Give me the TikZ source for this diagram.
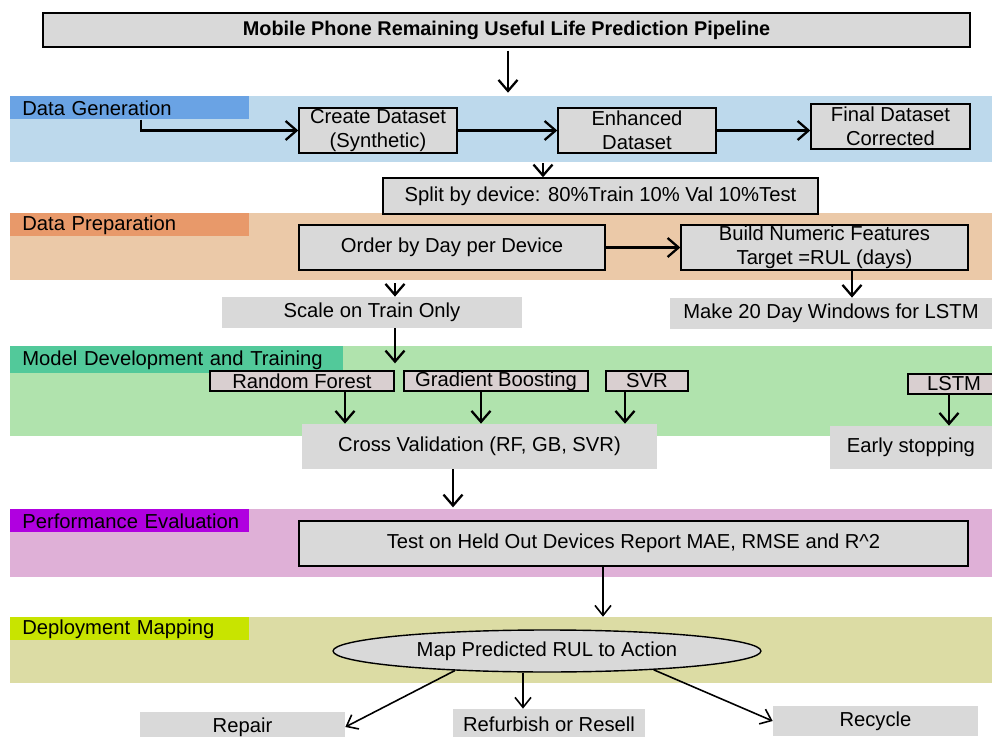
\documentclass[tikz,border=0pt]{standalone}
\usepackage{fontspec}
\setmainfont{Liberation Sans}
\usetikzlibrary{arrows.meta, positioning, shapes.geometric}

\definecolor{gris}{HTML}{D9D9D9}
\definecolor{rosagris}{HTML}{D9CFD0}
\definecolor{azulclaro}{HTML}{BDD9EC}
\definecolor{azul}{HTML}{6AA3E4}
\definecolor{melocoton}{HTML}{EBC9A8}
\definecolor{naranja}{HTML}{E8996A}
\definecolor{verdeclaro}{HTML}{B0E3AD}
\definecolor{verde}{HTML}{52C99A}
\definecolor{lila}{HTML}{DFB0D7}
\definecolor{morado}{HTML}{B000E0}
\definecolor{oliva}{HTML}{DCDCA4}
\definecolor{lima}{HTML}{C8E400}

\begin{document}
\begin{tikzpicture}[
      x=0.02cm, y=-0.02cm,
      font=\fontsize{11.5}{13.5}\selectfont,
      bloque/.style={draw, line width=0.8pt, fill=gris, align=center, inner sep=0pt},
      caja/.style={fill=gris, align=center, inner sep=0pt},
      modelo/.style={draw, line width=0.8pt, fill=rosagris, inner sep=0pt,
                     minimum height=0.4cm},
      etiqueta/.style={anchor=north west, inner xsep=0.24cm, inner ysep=0pt,
                       text width=#1, align=left, minimum height=0.46cm},
      flecha/.style={-{Straight Barb[length=2.2mm, width=3.8mm]}, line width=1.3pt},
      flechafina/.style={-{Straight Barb[length=2mm, width=3.2mm]}, line width=0.9pt}]
    \useasboundingbox (0,0) rectangle (992,737);

    % bandas de fondo
    \fill[azulclaro] (10,96) rectangle (992,162);
    \fill[melocoton] (10,213) rectangle (992,280);
    \fill[verdeclaro] (10,346) rectangle (992,436);
    \fill[lila] (10,509) rectangle (992,577);
    \fill[oliva] (10,617) rectangle (992,683);

    \node[etiqueta=4.3cm, fill=azul] (generacion) at (10,96) {Data Generation};
    \node[etiqueta=4.3cm, fill=naranja] (preparacion) at (10,213) {Data Preparation};
    \node[etiqueta=6.18cm, fill=verde, minimum height=0.54cm] (modelado) at (10,346)
      {Model Development and Training};
    \node[etiqueta=4.3cm, fill=morado] (evaluacion) at (10,509) {\mbox{Performance Evaluation}};
    \node[etiqueta=4.3cm, fill=lima] (despliegue) at (10,617) {Deployment Mapping};

    \node[bloque, minimum width=18.54cm, minimum height=0.68cm] (titulo) at (506.5,30)
      {\fontsize{11.3}{13}\selectfont\bfseries Mobile Phone Remaining Useful Life Prediction Pipeline};

    % generacion
    \node[bloque, minimum width=3.16cm, minimum height=0.9cm] (crear) at (378,130.5)
      {Create Dataset\\(Synthetic)};
    \node[bloque, minimum width=3.16cm, minimum height=0.9cm] (mejorado) at (637,130.5)
      {Enhanced\\Dataset};
    \node[bloque, minimum width=3.18cm, minimum height=0.9cm] (final) at (890.5,126.5)
      {Final Dataset\\Corrected};
    \node[bloque, minimum width=8.7cm, minimum height=0.72cm] (division) at (600.5,196)
      {Split by device: 80\%Train 10\% Val 10\%Test};

    % preparacion
    \node[bloque, minimum width=6.12cm, minimum height=0.9cm] (orden) at (452,247.5)
      {Order by Day per Device};
    \node[bloque, minimum width=5.74cm, minimum height=0.9cm] (construir) at (824.5,247.5)
      {Build Numeric Features\\Target =RUL (days)};
    \node[caja, minimum width=6cm, minimum height=0.62cm] (escala) at (372,312.5)
      {Scale on Train Only};
    \node[caja, minimum width=6.44cm, minimum height=0.62cm] (ventanas) at (831,313.5)
      {Make 20 Day Windows for LSTM};

    % modelos
    \node[modelo, minimum width=3.68cm] (bosque) at (302,381) {Random Forest};
    \node[modelo, minimum width=3.68cm] (boosting) at (496,381) {Gradient Boosting};
    \node[modelo, minimum width=1.64cm] (svr) at (647,381) {SVR};
    \node[modelo, minimum width=1.84cm] (lstm) at (954,384) {LSTM};
    \node[caja, minimum width=7.1cm, minimum height=0.9cm] (cruzada) at (479.5,446.5)
      {Cross Validation (RF, GB, SVR)};
    \node[caja, minimum width=3.24cm, minimum height=0.86cm] (parada) at (911,447.5)
      {Early stopping};

    % evaluacion y despliegue
    \node[bloque, minimum width=13.38cm, minimum height=0.9cm] (prueba) at (633.5,543.5)
      {Test on Held Out Devices Report MAE, RMSE and R\textasciicircum 2};
    \node[ellipse, draw, line width=0.8pt, fill=gris, inner sep=0pt,
          minimum width=8.56cm, minimum height=0.84cm] (mapa) at (547,651)
      {Map Predicted RUL to Action};
    \node[caja, minimum width=4.1cm, minimum height=0.6cm] (reparar) at (242.5,727) {Repair};
    \node[caja, minimum width=3.84cm, minimum height=0.6cm] (revender) at (549,724)
      {Refurbish or Resell};
    \node[caja, minimum width=4.1cm, minimum height=0.6cm] (reciclar) at (875.5,721) {Recycle};

    \coordinate (c1) at (543,163);
    \coordinate (c2) at (395,283);

    \draw[flecha] (titulo.south) ++(1.5,3) -- ++(0,42);
    \draw[flecha] ([xshift=0.22cm]generacion.south) |- (crear.west);
    \draw[flecha] (crear) -- (mejorado);
    \draw[flecha] (mejorado.east) -- (mejorado.east -| final.west);
    \draw[flecha] (c1) -- (c1 |- division.north);
    \draw[flecha] (orden) -- (construir);
    \draw[flecha] (c2) -- (c2 |- escala.north);
    \draw[flecha] ([xshift=0.55cm]construir.south) -- ([xshift=0.55cm]construir.south |- ventanas.north);
    \draw[flecha] ([xshift=0.46cm]escala.south) -- ++(0,35);
    \draw[flecha] ([xshift=0.86cm]bosque.south) -- ([xshift=0.86cm]bosque.south |- cruzada.north);
    \draw[flecha] ([xshift=-0.3cm]boosting.south) -- ([xshift=-0.3cm]boosting.south |- cruzada.north);
    \draw[flecha] ([xshift=-0.44cm]svr.south) -- ([xshift=-0.44cm]svr.south |- cruzada.north);
    \draw[flecha] ([xshift=-0.1cm]lstm.south) -- ([xshift=-0.1cm]lstm.south |- parada.north);
    \draw[flecha] ([xshift=-0.53cm]cruzada.south) -- ++(0,38);
    \draw[flechafina] ([xshift=-0.61cm]prueba.south) -- ++(0,50);
    \draw[flechafina] (mapa.192) -- (reparar.east);
    \draw[flechafina] ([xshift=-0.52cm]revender.north |- mapa.south) -- ([xshift=-0.52cm]revender.north);
    \draw[flechafina] (mapa.-10) -- (reciclar.west);
  \end{tikzpicture}
\end{document}
